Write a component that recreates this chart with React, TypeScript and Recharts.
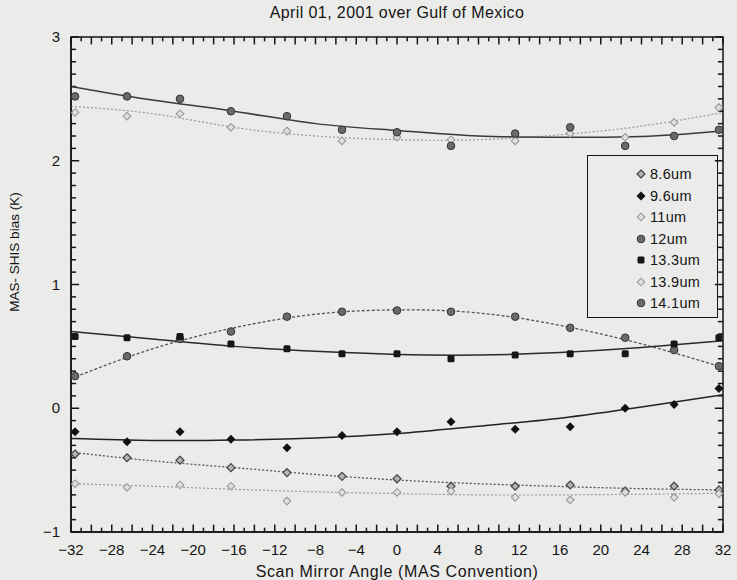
import { ComposedChart, Legend, Line, ReferenceArea, ReferenceLine, Scatter, XAxis, YAxis } from "recharts";

// scan angles where the MAS-SHIS bias was measured
const scanAngles = [-31.6, -26.5, -21.3, -16.3, -10.8, -5.4, 0, 5.3, 11.6, 17.0, 22.4, 27.2, 31.6];
const fitAngles = [-32, -24, -16, -8, 0, 8, 16, 24, 32];

const bias86 = [-0.37, -0.40, -0.42, -0.48, -0.52, -0.55, -0.57, -0.63, -0.63, -0.62, -0.67, -0.63, -0.66];
const fit86 = [-0.355, -0.425, -0.48, -0.535, -0.58, -0.61, -0.632, -0.65, -0.66];

const bias96 = [-0.19, -0.27, -0.19, -0.25, -0.32, -0.22, -0.19, -0.11, -0.17, -0.15, 0.0, 0.03, 0.16];
const fit96 = [-0.245, -0.26, -0.257, -0.24, -0.205, -0.145, -0.08, 0.01, 0.11];

const bias11 = [-0.61, -0.64, -0.62, -0.63, -0.75, -0.68, -0.68, -0.67, -0.72, -0.74, -0.68, -0.72, -0.69];
const fit11 = [-0.61, -0.63, -0.655, -0.675, -0.69, -0.70, -0.70, -0.695, -0.687];

const bias12 = [0.26, 0.42, 0.56, 0.62, 0.74, 0.78, 0.79, 0.78, 0.74, 0.65, 0.57, 0.47, 0.34];
const fit12 = [0.24, 0.48, 0.65, 0.76, 0.795, 0.77, 0.67, 0.52, 0.33];

const bias133 = [0.58, 0.57, 0.58, 0.52, 0.48, 0.44, 0.44, 0.40, 0.43, 0.44, 0.44, 0.52, 0.57];
const fit133 = [0.62, 0.56, 0.50, 0.46, 0.435, 0.43, 0.45, 0.49, 0.545];

const bias139 = [2.39, 2.36, 2.38, 2.27, 2.24, 2.16, 2.19, 2.17, 2.16, 2.22, 2.19, 2.31, 2.43];
const fit139 = [2.44, 2.38, 2.27, 2.20, 2.17, 2.17, 2.21, 2.28, 2.39];

const bias141 = [2.52, 2.52, 2.50, 2.40, 2.36, 2.25, 2.23, 2.12, 2.22, 2.27, 2.12, 2.20, 2.25];
const fit141 = [2.60, 2.49, 2.40, 2.30, 2.245, 2.20, 2.19, 2.195, 2.24];

const xLabels = [-32, -28, -24, -20, -16, -12, -8, -4, 0, 4, 8, 12, 16, 20, 24, 28, 32];
const yLabels = [-1, 0, 1, 2, 3];

// minor tick positions (every 1 deg on x, every 0.1 K on y)
const xMinor = Array.from({ length: 65 }, (_, i) => i - 32);
const yMinor = Array.from({ length: 41 }, (_, i) => Math.round(i * 10 - 100) / 100);

const PLOT = { left: 71, right: 723, top: 37, bottom: 532 };
const FONT = '"Liberation Sans", Arial, sans-serif';
const INK = "#151515";

type Kind = "open" | "filled" | "light" | "hatched" | "square";

const series: Array<{ name: string; bias: number[]; fit: number[]; kind: Kind; stroke: string; dash?: string; width: number }> = [
  { name: "8.6um", bias: bias86, fit: fit86, kind: "open", stroke: "#555", dash: "2 2", width: 1.3 },
  { name: "9.6um", bias: bias96, fit: fit96, kind: "filled", stroke: "#222", width: 1.5 },
  { name: "11um", bias: bias11, fit: fit11, kind: "light", stroke: "#999", dash: "2 2", width: 1.2 },
  { name: "12um", bias: bias12, fit: fit12, kind: "hatched", stroke: "#555", dash: "3 2", width: 1.3 },
  { name: "13.3um", bias: bias133, fit: fit133, kind: "square", stroke: "#2a2a2a", width: 1.5 },
  { name: "13.9um", bias: bias139, fit: fit139, kind: "light", stroke: "#999", dash: "2 2", width: 1.2 },
  { name: "14.1um", bias: bias141, fit: fit141, kind: "hatched", stroke: "#3a3a3a", width: 1.5 },
];

const toPoints = (xs: number[], ys: number[]) => xs.map((x, i) => ({ x, y: ys[i] }));

function Marker({ kind, cx, cy }: { kind: Kind; cx: number; cy: number }) {
  const d = (r: number) => `M${cx},${cy - r} L${cx + r},${cy} L${cx},${cy + r} L${cx - r},${cy} Z`;
  switch (kind) {
    case "open":
      return <path d={d(4)} fill="#b5b5b5" stroke="#444" strokeWidth={1.2} />;
    case "filled":
      return <path d={d(4.5)} fill="#111" />;
    case "square":
      return <rect x={cx - 3.5} y={cy - 3.5} width={7} height={7} rx={1.5} fill="#161616" />;
    case "light":
      return <path d={d(3.8)} fill="#e0e0e0" stroke="#9a9a9a" strokeWidth={1.1} />;
    default:
      return <circle cx={cx} cy={cy} r={3.8} fill="#6a6a6a" stroke="#333" strokeWidth={1} />;
  }
}

const shapeFor = (kind: Kind) => (p: any) =>
  p.cx == null ? <g /> : <Marker kind={kind} cx={p.cx} cy={p.cy} />;

function XTick(props: any) {
  const { x, payload } = props;
  const v = payload.value as number;
  return (
    <text x={x} y={PLOT.bottom + 23} textAnchor="middle" fontSize={15} fontFamily={FONT} fill={INK}>
      {v < 0 ? `\u2212${-v}` : v}
    </text>
  );
}

function YTick(props: any) {
  const { y, payload } = props;
  const v = payload.value as number;
  return (
    <text x={60} y={y + 5} textAnchor="end" fontSize={15} fontFamily={FONT} fill={INK}>
      {v < 0 ? `\u2212${-v}` : v}
    </text>
  );
}

function LegendBox() {
  return (
    <div
      style={{
        width: 131,
        height: 163,
        boxSizing: "border-box",
        border: `1.5px solid ${INK}`,
        position: "relative",
        fontFamily: FONT,
      }}
    >
      {series.map((s, i) => (
        <div key={s.name} style={{ position: "absolute", left: 46, top: 8 + i * 21.5, height: 20, display: "flex", alignItems: "center" }}>
          <svg width={14} height={14}>
            <Marker kind={s.kind} cx={7} cy={7} />
          </svg>
          <span style={{ fontSize: 14.5, color: INK, marginLeft: 2, letterSpacing: 0.3 }}>{s.name}</span>
        </div>
      ))}
    </div>
  );
}

export default function App() {
  return (
    <div style={{ position: "absolute", left: 0, top: 0, width: 737, height: 580, background: "#ebebe9" }}>
      <div
        style={{
          position: "absolute",
          left: 0,
          width: 794,
          top: 4,
          textAlign: "center",
          fontFamily: FONT,
          fontSize: 16,
          letterSpacing: 0.4,
          color: INK,
        }}
      >
        April 01, 2001 over Gulf of Mexico
      </div>
      <ComposedChart width={737} height={580} margin={{ top: 37, right: 14, left: 0, bottom: 0 }}>
        <XAxis
          type="number"
          dataKey="x"
          domain={[-32, 32]}
          allowDataOverflow
          ticks={xLabels}
          interval={0}
          tick={XTick}
          tickLine={false}
          height={48}
          axisLine={{ stroke: INK, strokeWidth: 1.5 }}
          label={() => (
            <text x={397} y={577} textAnchor="middle" fontSize={16} letterSpacing={0.6} fontFamily={FONT} fill={INK}>
              Scan Mirror Angle (MAS Convention)
            </text>
          )}
        />
        <YAxis
          type="number"
          domain={[-1, 3]}
          allowDataOverflow
          ticks={yLabels}
          interval={0}
          tick={YTick}
          tickLine={false}
          width={71}
          axisLine={{ stroke: INK, strokeWidth: 1.5 }}
          label={() => (
            <text x={19} y={252} transform="rotate(-90 19 252)" textAnchor="middle" fontSize={13.5} fontFamily={FONT} fill={INK}>
              MAS- SHIS bias (K)
            </text>
          )}
        />
        <ReferenceArea x1={-32} x2={32} y1={-1} y2={3} fill="none" stroke={INK} strokeWidth={1.5} ifOverflow="visible" />
        {/* inward tick marks on all four sides */}
        {xMinor.map((v) => (
          <ReferenceLine key={`xb${v}`} segment={[{ x: v, y: -1 }, { x: v, y: v % 2 === 0 ? -0.94 : -0.965 }]} stroke={INK} strokeWidth={1.5} ifOverflow="visible" />
        ))}
        {xMinor.map((v) => (
          <ReferenceLine key={`xt${v}`} segment={[{ x: v, y: 3 }, { x: v, y: v % 2 === 0 ? 2.94 : 2.965 }]} stroke={INK} strokeWidth={1.5} ifOverflow="visible" />
        ))}
        {yMinor.map((v) => (
          <ReferenceLine key={`yl${v}`} segment={[{ x: -32, y: v }, { x: yLabels.includes(v) ? -31.2 : -31.5, y: v }]} stroke={INK} strokeWidth={1.5} ifOverflow="visible" />
        ))}
        {yMinor.map((v) => (
          <ReferenceLine key={`yr${v}`} segment={[{ x: 32, y: v }, { x: yLabels.includes(v) ? 31.2 : 31.5, y: v }]} stroke={INK} strokeWidth={1.5} ifOverflow="visible" />
        ))}
        {series.map((s) => (
          <Line
            key={`fit-${s.name}`}
            data={toPoints(fitAngles, s.fit)}
            dataKey="y"
            type="natural"
            stroke={s.stroke}
            strokeWidth={s.width}
            strokeDasharray={s.dash}
            dot={false}
            activeDot={false}
            legendType="none"
            isAnimationActive={false}
          />
        ))}
        {series.map((s) => (
          <Scatter
            key={`pts-${s.name}`}
            name={s.name}
            data={toPoints(scanAngles, s.bias)}
            dataKey="y"
            shape={shapeFor(s.kind)}
            isAnimationActive={false}
          />
        ))}
        <Legend
          layout="vertical"
          align="center"
          verticalAlign="middle"
          content={() => <LegendBox />}
          wrapperStyle={{ left: 587, top: 155, width: 131, height: 163 }}
        />
      </ComposedChart>
    </div>
  );
}
